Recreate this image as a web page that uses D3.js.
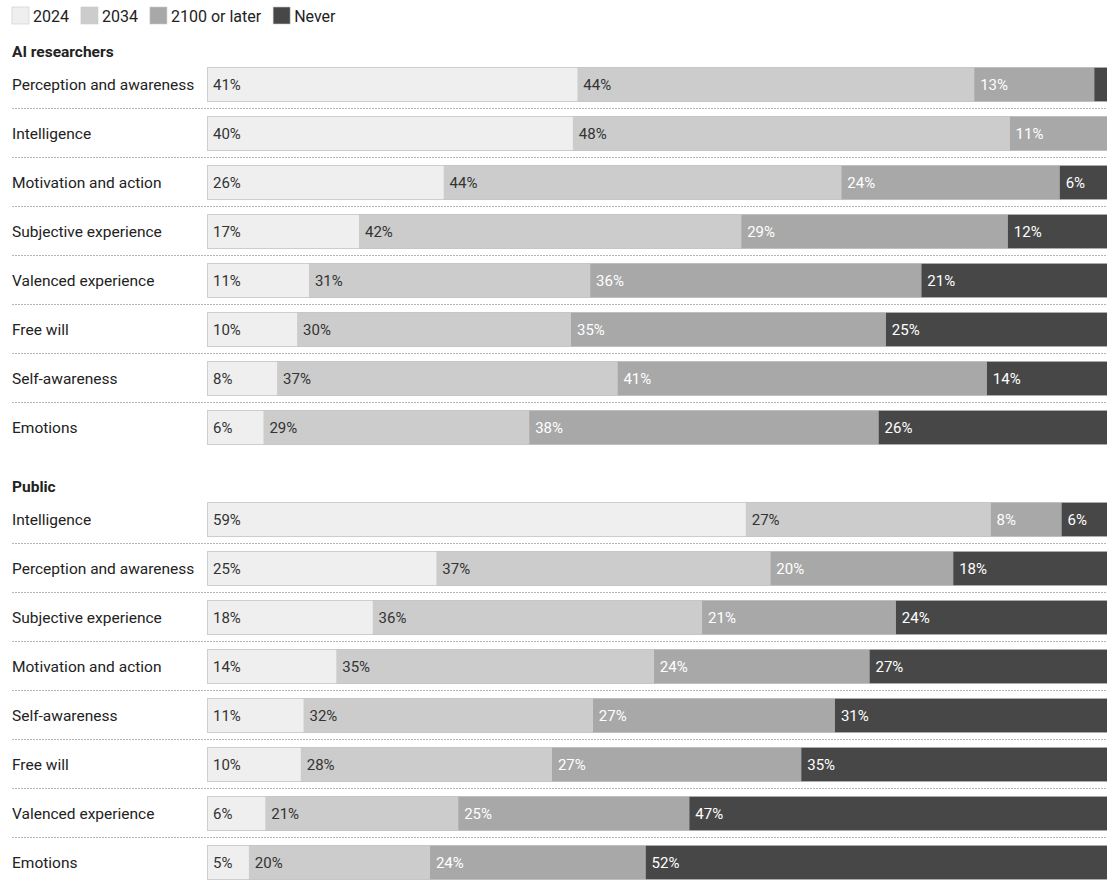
<!DOCTYPE html>
<html>
<head>
<meta charset="utf-8">
<script src="https://cdn.jsdelivr.net/npm/d3@7"></script>
<style>
  html, body { margin: 0; padding: 0; background: #fff; }
  svg { display: block; font-family: Roboto, "Noto Sans", sans-serif; }
</style>
</head>
<body>
<svg id="chart" width="1107" height="880"></svg>
<script>
// ---- data ----
const seriesNames = ["2024", "2034", "2100 or later", "Never"];
const seriesColors = ["#efefef", "#cccccc", "#a8a8a8", "#474747"];
const seriesTextColors = ["#333333", "#333333", "#ffffff", "#ffffff"];

const researcherCategories = ["Perception and awareness", "Intelligence", "Motivation and action", "Subjective experience", "Valenced experience", "Free will", "Self-awareness", "Emotions"];
const researcher2024  = [40.7, 40.2, 26.0, 16.7, 11.2, 9.9, 7.7, 6.2];
const researcher2034  = [43.6, 48.0, 43.7, 42.0, 30.9, 30.1, 37.4, 29.2];
const researcher2100  = [13.2, 11.0, 24.0, 29.3, 36.4, 34.6, 40.6, 38.4];
const researcherNever = [2.5, 0.8, 6.3, 12.0, 21.4, 25.4, 14.3, 26.2];

const publicCategories = ["Intelligence", "Perception and awareness", "Subjective experience", "Motivation and action", "Self-awareness", "Free will", "Valenced experience", "Emotions"];
const public2024  = [59.2, 25.2, 18.2, 14.2, 10.6, 10.3, 6.4, 4.6];
const public2034  = [26.9, 36.7, 36.2, 34.9, 31.8, 27.6, 21.2, 19.9];
const public2100  = [7.8, 20.1, 21.3, 23.7, 26.6, 27.4, 25.4, 23.7];
const publicNever = [6.1, 18.0, 24.3, 27.2, 31.0, 34.7, 46.9, 51.9];

const groupTitles = ["AI researchers", "Public"];

// ---- chart ----
const svg = d3.select("#chart");
const x = d3.scaleLinear().domain([0, 100]).range([207, 1117]);

// legend
const legend = svg.append("g");
let lx = 12;
seriesNames.forEach((name, i) => {
  const g = legend.append("g").attr("transform", `translate(${lx},7)`);
  g.append("rect").attr("width", 17).attr("height", 17)
    .attr("fill", seriesColors[i]).attr("stroke", "#c8c8c8").attr("stroke-width", 0.6);
  const t = g.append("text").attr("x", 21).attr("y", 14.5).attr("font-size", 16)
    .attr("fill", "#222").text(name);
  const w = t.node().getComputedTextLength();
  lx += 21 + w + 12;
});

function drawGroup(title, cats, s1, s2, s3, s4, top) {
  const g = svg.append("g");
  g.append("text").attr("x", 12).attr("y", top).attr("font-size", 15.5)
    .attr("font-weight", "bold").attr("fill", "#222").text(title);
  const step = 49, bh = 35;
  const y = d3.scaleBand().domain(cats)
    .range([top + 10, top + 10 + step * cats.length - (step - bh)])
    .paddingInner((step - bh) / step).paddingOuter(0);
  const rows = cats.map((c, i) => ({ cat: c, vals: [s1[i], s2[i], s3[i], s4[i]] }));
  rows.forEach((r, i) => {
    const yy = y(r.cat), h = y.bandwidth();
    g.append("text").attr("x", 12).attr("y", yy + h / 2).attr("dy", "0.35em")
      .attr("font-size", 15.5).attr("fill", "#222").text(r.cat);
    let cum = 0;
    r.vals.forEach((v, k) => {
      const x0 = x(cum), x1 = x(cum + v);
      g.append("rect").attr("x", x0).attr("y", yy).attr("width", x1 - x0).attr("height", h)
        .attr("fill", seriesColors[k]);
      if (v >= 3) {
        g.append("text").attr("x", x0 + 6).attr("y", yy + h / 2).attr("dy", "0.35em")
          .attr("font-size", 15).attr("fill", seriesTextColors[k]).text(Math.round(v) + "%");
      }
      cum += v;
    });
    g.append("rect").attr("x", x(0) + 0.5).attr("y", yy + 0.5).attr("width", x(cum) - x(0)).attr("height", h - 1)
      .attr("fill", "none").attr("stroke", "#c4c4c4").attr("stroke-width", 1).attr("opacity", 0.8);
    if (i < rows.length - 1) {
      const sy = yy + h + 6.5;
      g.append("line").attr("x1", 12).attr("x2", 1107).attr("y1", sy).attr("y2", sy)
        .attr("stroke", "#b5b5b5").attr("stroke-dasharray", "2,1").attr("stroke-width", 1);
    }
  });
}

drawGroup(groupTitles[0], researcherCategories, researcher2024, researcher2034, researcher2100, researcherNever, 57);
drawGroup(groupTitles[1], publicCategories, public2024, public2034, public2100, publicNever, 492);
</script>
</body>
</html>
